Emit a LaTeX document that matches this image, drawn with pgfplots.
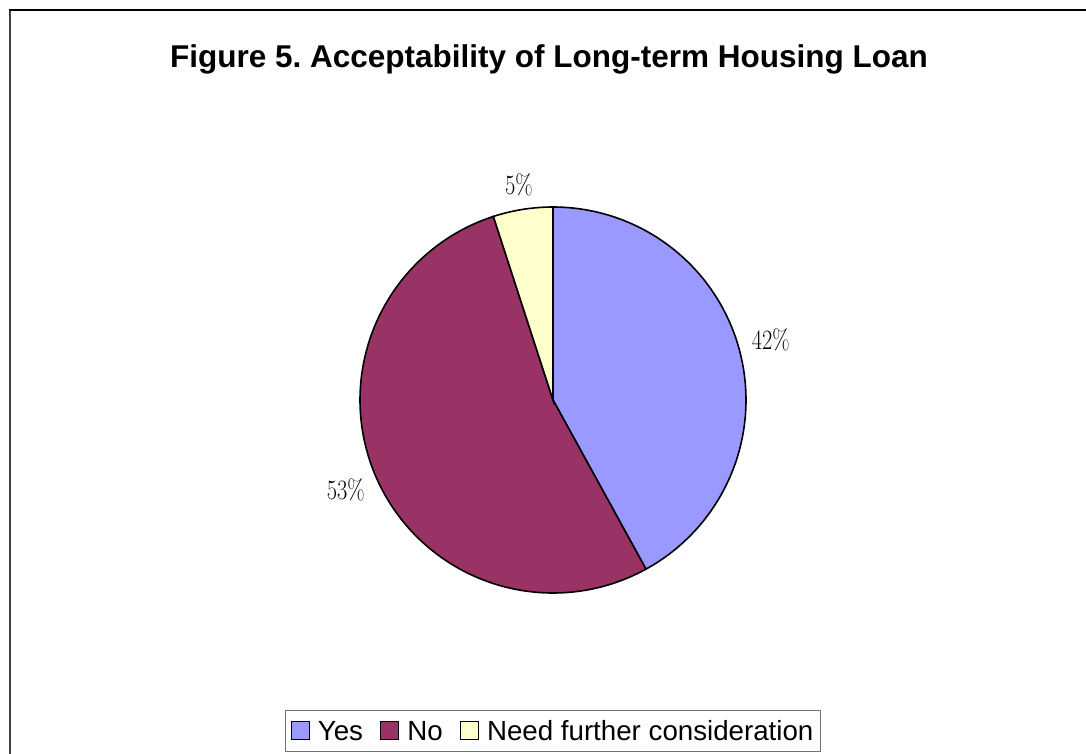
\documentclass[border=0pt]{standalone}
\usepackage{pgfplots}
\pgfplotsset{compat=1.18}
\usepackage{pgfplotstable}
\usepackage{fontspec}
\newfontfamily\arial{Liberation Sans}
\frenchspacing

\definecolor{yescol}{HTML}{9999FF}
\definecolor{nocol}{HTML}{993366}
\definecolor{needcol}{HTML}{FFFFCC}

\pgfplotstableread{
label value
Yes 42
No 53
Need 5
}\piedata

\begin{document}
\begin{tikzpicture}
\useasboundingbox (0pt,0pt) rectangle (1086pt,-754pt);
\fill[white] (0pt,0pt) rectangle (1086pt,-754pt);
\draw[line width=2.3pt, black!75] (10pt,-754pt) -- (10pt,-10pt);
\draw[line width=1.3pt, black] (9pt,-10pt) -- (1086pt,-10pt);
\node[anchor=base, font=\arial\bfseries\fontsize{31.5}{36}\selectfont] at (549pt,-68pt)
  {Figure 5. Acceptability of Long-term Housing Loan};

\pgfplotstablegetelem{0}{value}\of\piedata \let\vA\pgfplotsretval
\pgfplotstablegetelem{1}{value}\of\piedata \let\vB\pgfplotsretval
\pgfplotstablegetelem{2}{value}\of\piedata \let\vC\pgfplotsretval
\pgfmathsetmacro\aA{90}
\pgfmathsetmacro\aB{\aA-3.6*\vA}
\pgfmathsetmacro\aC{\aB-3.6*\vB}
\pgfmathsetmacro\aD{\aC-3.6*\vC}

\begin{axis}[
  at={(553pt,-400pt)}, anchor=center,
  scale only axis, width=386pt, height=386pt,
  xmin=-1, xmax=1, ymin=-1, ymax=1,
  hide axis, clip=false,
  legend columns=3,
  legend image code/.code={\draw[#1,draw=black,line width=1.3pt] (0pt,-9pt) rectangle (18pt,9pt);},
  legend style={at={(0.5,-0.357)}, anchor=center, draw=black!55, line width=1pt,
    font=\arial\fontsize{27.7}{32}\selectfont, inner xsep=5pt, inner ysep=8pt,
    nodes={text height=20pt, text depth=1pt},
    /tikz/every even column/.append style={column sep=15pt},
    /tikz/every odd column/.append style={column sep=6pt}},
]
\addplot[fill=yescol, draw=black, line width=1.6pt, domain=\aB:\aA, samples=150, variable=\t]
  ({cos(t)}, {sin(t)}) -- (axis cs:0,0) -- cycle;
\addlegendentry{Yes}
\addplot[fill=nocol, draw=black, line width=1.6pt, domain=\aC:\aB, samples=180, variable=\t]
  ({cos(t)}, {sin(t)}) -- (axis cs:0,0) -- cycle;
\addlegendentry{No}
\addplot[fill=needcol, draw=black, line width=1.6pt, domain=\aD:\aC, samples=30, variable=\t]
  ({cos(t)}, {sin(t)}) -- (axis cs:0,0) -- cycle;
\addlegendentry{Need further consideration\hspace{15pt}}

\node[xscale=0.8, font=\fontsize{28}{32}\selectfont] at (axis cs:{1.17*cos((\aA+\aB)/2+1)},{1.17*sin((\aA+\aB)/2+1)}) {\vA\%};
\node[xscale=0.8, font=\fontsize{28}{32}\selectfont] at (axis cs:{1.17*cos((\aB+\aC)/2)},{1.17*sin((\aB+\aC)/2)}) {\vB\%};
\node[xscale=0.8, font=\fontsize{28}{32}\selectfont] at (axis cs:{1.13*cos((\aC+\aD)/2)},{1.13*sin((\aC+\aD)/2)}) {\vC\%};
\end{axis}
\end{tikzpicture}
\end{document}
